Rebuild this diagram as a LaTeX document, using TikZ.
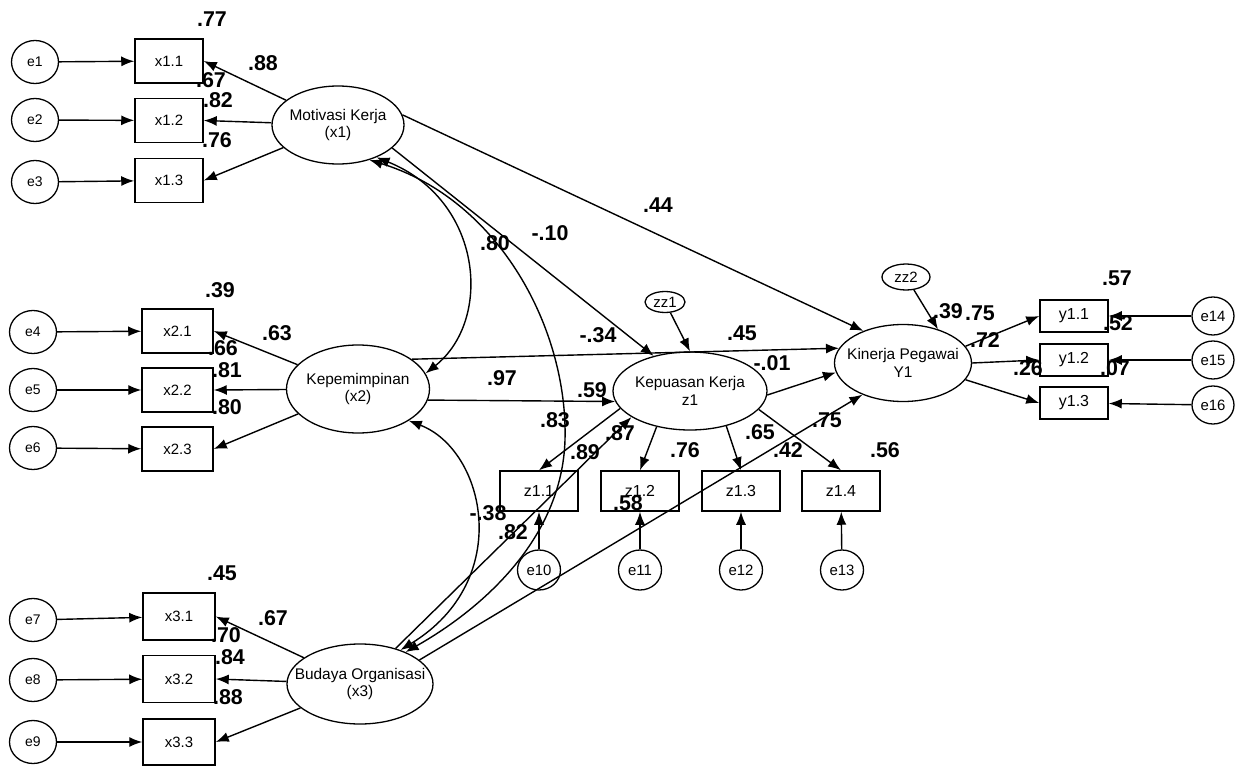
\documentclass[tikz,border=0pt]{standalone}
\usepackage{fontspec}
\setmainfont{Liberation Sans}
\usetikzlibrary{arrows.meta,shapes.geometric}
\newcommand{\zl}[1]{\makebox[0pt][c]{#1}}
\begin{document}
\begin{tikzpicture}[x=1bp,y=-1bp,
  every node/.style={inner sep=0pt},
  obs/.style={draw, line width=1.5bp, minimum width=70bp, minimum height=44bp, font=\fontsize{15}{16}\selectfont},
  obsz/.style={obs, minimum width=78bp, minimum height=40bp, font=\fontsize{16}{17}\selectfont},
  obsy/.style={obs, minimum width=68bp, minimum height=32bp, font=\fontsize{16}{17}\selectfont},
  err/.style={draw, ellipse, line width=1.3bp, minimum width=47bp, minimum height=43bp, font=\fontsize{14}{15}\selectfont},
  errs/.style={draw, ellipse, line width=1.3bp, minimum width=43bp, minimum height=40bp, font=\fontsize{15}{16}\selectfont},
  lat/.style={draw, ellipse, line width=1.3bp, align=center, font=\fontsize{15.5}{18}\selectfont},
  pth/.style={-{Latex[length=13bp,width=10bp]}, line width=1.4bp},
  cov/.style={{Latex[length=13bp,width=10bp]}-{Latex[length=13bp,width=10bp]}, line width=1.4bp},
  lab/.style={font=\bfseries\fontsize{21.5}{21.5}\selectfont}
]
\useasboundingbox (0,0) rectangle (1236,767);

% error terms left
\node[err] (e1) at (35,62) {e1};
\node[err] (e2) at (35,120) {e2};
\node[err] (e3) at (35,182) {e3};
\node[err] (e4) at (33,332) {e4};
\node[err] (e5) at (33,390) {e5};
\node[err] (e6) at (33,448) {e6};
\node[err] (e7) at (33,620) {e7};
\node[err] (e8) at (33,680) {e8};
\node[err] (e9) at (33,742) {e9};

% observed x
\node[obs, minimum width=68bp] (x11) at (169,61) {x1.1};
\node[obs, minimum width=68bp] (x12) at (169,120.5) {x1.2};
\node[obs, minimum width=68bp] (x13) at (169,180.5) {x1.3};
\node[obs, minimum width=71bp] (x21) at (177.5,331) {x2.1};
\node[obs, minimum width=71bp] (x22) at (177.5,390) {x2.2};
\node[obs, minimum width=71bp] (x23) at (177.5,449) {x2.3};
\node[obs, minimum width=72bp, minimum height=47bp] (x31) at (179,616.5) {x3.1};
\node[obs, minimum width=72bp, minimum height=47bp] (x32) at (179,679) {x3.2};
\node[obs, minimum width=72bp, minimum height=46bp] (x33) at (179,742) {x3.3};

% latent
\node[lat, minimum width=132bp, minimum height=78bp] (mk) at (338,125) {\zl{Motivasi Kerja}\\\zl{(x1)}};
\node[lat, minimum width=143bp, minimum height=88bp] (kp) at (358,389) {\zl{Kepemimpinan}\\\zl{(x2)}};
\node[lat, minimum width=146bp, minimum height=80bp] (bo) at (360,684) {\zl{Budaya Organisasi}\\\zl{(x3)}};
\node[lat, minimum width=154bp, minimum height=78bp] (kk) at (690,391) {\zl{Kepuasan Kerja}\\\zl{z1}};
\node[lat, minimum width=137bp, minimum height=77bp] (ki) at (903,363) {\zl{Kinerja Pegawai}\\\zl{Y1}};
\node[draw, ellipse, line width=1.3bp, minimum width=40bp, minimum height=21bp, font=\fontsize{15}{16}\selectfont] (zz1) at (665,302) {zz1};
\node[draw, ellipse, line width=1.3bp, minimum width=48bp, minimum height=26bp, font=\fontsize{15}{16}\selectfont] (zz2) at (906,277) {zz2};

% z indicators
\node[obsz] (z11) at (539,491) {z1.1};
\node[obsz] (z12) at (640,491) {z1.2};
\node[obsz] (z13) at (741,491) {z1.3};
\node[obsz] (z14) at (841,491) {z1.4};
\node[errs] (e10) at (539,570) {e10};
\node[errs] (e11) at (640,570) {e11};
\node[errs] (e12) at (741,570) {e12};
\node[errs] (e13) at (842,570) {e13};

% y indicators
\node[obsy] (y11) at (1074,316) {y1.1};
\node[obsy] (y12) at (1074,360) {y1.2};
\node[obsy] (y13) at (1074,403) {y1.3};
\node[errs, minimum width=42bp, minimum height=38bp] (e14) at (1213,316) {e14};
\node[errs, minimum width=42bp, minimum height=38bp] (e15) at (1213,360) {e15};
\node[errs, minimum width=42bp, minimum height=38bp] (e16) at (1213,405) {e16};

% error arrows
\draw[pth] (e1) -- (x11);
\draw[pth] (e2) -- (x12);
\draw[pth] (e3) -- (x13);
\draw[pth] (e4) -- (x21);
\draw[pth] (e5) -- (x22);
\draw[pth] (e6) -- (x23);
\draw[pth] (e7) -- (x31);
\draw[pth] (e8) -- (x32);
\draw[pth] (e9) -- (x33);
\draw[pth] (e10) -- (z11);
\draw[pth] (e11) -- (z12);
\draw[pth] (e12) -- (z13);
\draw[pth] (e13) -- (z14);
\draw[pth] (e14) -- (y11);
\draw[pth] (e15) -- (y12);
\draw[pth] (e16) -- (y13);

% loadings
\draw[pth] (mk) -- (x11.east);
\draw[pth] (mk) -- (x12.east);
\draw[pth] (mk) -- (x13.east);
\draw[pth] (kp) -- (x21.east);
\draw[pth] (kp) -- (x22.east);
\draw[pth] (kp) -- (x23.east);
\draw[pth] (bo) -- (x31.east);
\draw[pth] (bo) -- (x32.east);
\draw[pth] (bo) -- (x33.east);
\draw[pth] (kk.194) -- (z11.north);
\draw[pth] (kk.227) -- (z12.north);
\draw[pth] (kk.316) -- (z13.north);
\draw[pth] (kk.345) -- (z14.north);
\draw[pth] (ki.15) -- (y11.west);
\draw[pth] (ki.east) -- (y12.west);
\draw[pth] (ki.345) -- (y13.west);

% structural paths
\draw[pth] (zz1) -- (kk.north);
\draw[pth] (zz2) -- (ki.44);
\draw[pth] (mk.9) -- (ki.141);
\draw[pth] (mk.337) -- (kk.136);
\draw[pth] (kp.29) -- (ki.167);
\draw[pth] (kp.351) -- (kk.188);
\draw[pth] (kk.357) -- (ki.188);
\draw[pth] (bo.45) -- (kk.204);
\draw[pth] (bo.22) -- (ki.218);

% covariances
\draw[cov] (mk.320) .. controls (483,200) and (493,320) .. (kp.13);
\draw[cov] (mk.312) .. controls (500,200) and (568,330) .. (565,440) .. controls (562,540) and (480,610) .. (bo.35);
\draw[cov] (kp.328) .. controls (485,450) and (515,580) .. (bo.40);

% labels
\node[lab] (l1) at (212,19) {.77};
\node[lab] (l2) at (263,63) {.88};
\node[lab] (l3) at (211,80) {.67};
\node[lab] (l4) at (218,100) {.82};
\node[lab] (l5) at (217,140) {.76};
\node[lab] (l6) at (220,290) {.39};
\node[lab] (l7) at (277,333) {.63};
\node[lab] (l8) at (223,348) {.66};
\node[lab] (l9) at (227,370) {.81};
\node[lab] (l10) at (227,407) {.80};
\node[lab] (l11) at (222,573) {.45};
\node[lab] (l12) at (273,618) {.67};
\node[lab] (l13) at (226,635) {.70};
\node[lab] (l14) at (230,657) {.84};
\node[lab] (l15) at (228,697) {.88};
\node[lab] (l16) at (658,205) {.44};
\node[lab] (l17) at (550,233) {-.10};
\node[lab] (l18) at (495,243) {.80};
\node[lab] (l19) at (598,335) {-.34};
\node[lab] (l20) at (742,333) {.45};
\node[lab] (l21) at (772,363) {-.01};
\node[lab] (l22) at (502,378) {.97};
\node[lab] (l23) at (592,390) {.59};
\node[lab] (l24) at (555,420) {.83};
\node[lab] (l25) at (620,433) {.87};
\node[lab] (l26) at (585,452) {.89};
\node[lab] (l27) at (488,513) {-.38};
\node[lab] (l28) at (513,532) {.82};
\node[lab] (l29) at (628,503) {.58};
\node[lab] (l30) at (685,450) {.76};
\node[lab] (l31) at (760,432) {.65};
\node[lab] (l32) at (788,450) {.42};
\node[lab] (l33) at (827,420) {.75};
\node[lab] (l34) at (885,450) {.56};
\node[lab] (l35) at (948,311) {.39};
\node[lab] (l36) at (980,313) {.75};
\node[lab] (l37) at (985,340) {.72};
\node[lab] (l38) at (1117,278) {.57};
\node[lab] (l39) at (1118,323) {.52};
\node[lab] (l40) at (1028,368) {.26};
\node[lab] (l41) at (1115,368) {.07};
\end{tikzpicture}
\end{document}
